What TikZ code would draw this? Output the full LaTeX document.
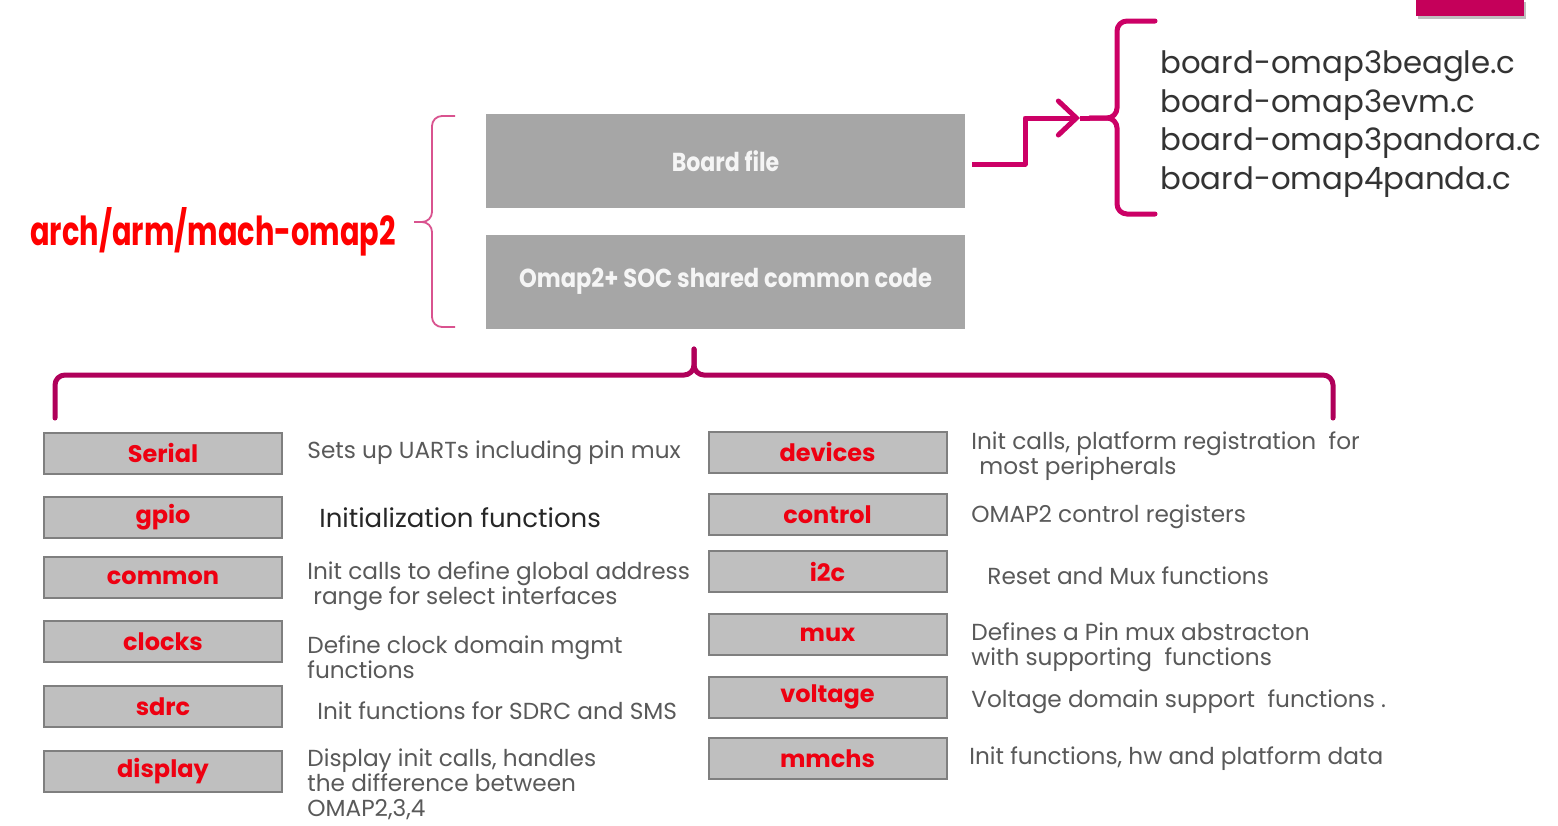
\documentclass[tikz,border=0pt]{standalone}
\usepackage{fontspec}
\usepackage{graphicx}
\setmainfont{Poppins}
\usetikzlibrary{arrows.meta}
\definecolor{mag}{HTML}{CC0066}
\definecolor{magdark}{HTML}{B0005A}
\definecolor{bracepink}{HTML}{D9538F}
\definecolor{crim}{HTML}{C5005A}
\definecolor{topgray}{HTML}{A6A6A6}
\definecolor{boxgray}{HTML}{BFBFBF}
\definecolor{boxedge}{HTML}{7F7F7F}
\definecolor{lblred}{HTML}{EE0011}
\definecolor{desc}{HTML}{595959}
\definecolor{archred}{HTML}{FF0000}
\begin{document}
\begin{tikzpicture}[x=0.5pt,y=-0.5pt,
  topbox/.style={fill=topgray, minimum width=239.5pt, minimum height=47pt, inner sep=0, text=white!92!gray, font=\bfseries\fontsize{13}{13}\selectfont},
  modbox/.style={fill=boxgray, draw=boxedge, line width=1pt, minimum width=119pt, minimum height=20.5pt, inner sep=0, text=lblred, font=\bfseries\fontsize{12}{12}\selectfont},
  desctext/.style={anchor=west, inner sep=0, text=desc, align=left, font=\fontsize{11.6}{12.5}\selectfont},
  filetext/.style={anchor=west, inner sep=0, text=black!80, align=left, font=\fontsize{15.4}{19.25}\selectfont},
  thick brace/.style={line width=2.5pt, rounded corners=5pt, line cap=round},
]
\useasboundingbox (0,0) rectangle (1558,825);
\fill[white] (0,0) rectangle (1558,825);

% top-right bar
\fill[black!25] (1418,2) rectangle (1526,19);
\fill[crim] (1416,0) rectangle (1524,16);

% top boxes
\node[topbox] (bf) at (725.5,161) {\scalebox{0.85}[1]{Board file}};
\node[topbox] (soc) at (725.5,281.5) {\scalebox{0.87}[1]{Omap2+ SOC shared common code}};

% arch label and thin brace
\node[inner sep=0, text=archred, font=\bfseries\fontsize{20}{20}\selectfont] (arch) at (213,232) {\scalebox{0.72}[1]{arch/arm/mach-omap2}};
\draw[bracepink, line width=0.9pt, rounded corners=5pt] (455,116) -- (432,116) -- (432,222) -- (414,222);
\draw[bracepink, line width=0.9pt, rounded corners=5pt] (414,222) -- (432,222) -- (432,327) -- (455,327);

% arrow to the board files
\coordinate (atip) at (1080,118);
\coordinate (btip) at (1090,118);
\draw[mag, line width=2.5pt, line join=round, -{Straight Barb[length=9pt,width=17pt,line cap=round]}] (972,164) -- (1025,164) -- (1025,118) -- (atip);
\draw[mag, thick brace] (1155,21) -- (1117,21) -- (1117,118) -- (btip);
\draw[mag, thick brace] (btip) -- (1117,118) -- (1117,214) -- (1155,214);
\draw[mag, line width=2.5pt] (atip) -- (btip);

\node[filetext] (files) at (1160,124) {board-omap3beagle.c\\board-omap3evm.c\\board-omap3pandora.c\\board-omap4panda.c};

% bottom brace
\coordinate (ctip) at (694,349);
\draw[magdark, thick brace] (55,418) -- (55,375) -- (694,375) -- (ctip);
\draw[magdark, thick brace] (ctip) -- (694,375) -- (1333,375) -- (1333,418);

% left column
\node[modbox] (serial)  at (163,453) {Serial};
\node[modbox] (gpio)    at (163,517.5) {gpio};
\node[modbox] (common)  at (163,577.5) {common};
\node[modbox] (clocks)  at (163,641.5) {clocks};
\node[modbox] (sdrc)    at (163,706.5) {sdrc};
\node[modbox] (display) at (163,771.5) {display};

\node[desctext] (dserial) at (307,453) {Sets up UARTs including pin mux};
\node[desctext, text=black!85, font=\fontsize{13}{15}\selectfont] (dgpio) at (319,518) {Initialization functions};
\node[desctext] (dcommon) at (307,586) {Init calls to define global address\\\hspace{3pt}range for select interfaces};
\node[desctext] (dclocks) at (307,657) {Define clock domain mgmt\\functions};
\node[desctext] (dsdrc) at (317,711) {Init functions for SDRC and SMS};
\node[desctext] (ddisplay) at (307,784) {Display init calls, handles\\the difference between\\OMAP2,3,4};

% right column
\node[modbox] (devices) at (827.5,452) {devices};
\node[modbox] (control) at (827.5,514.5) {control};
\node[modbox] (i2c)     at (827.5,571.5) {i2c};
\node[modbox] (mux)     at (827.5,634.5) {mux};
\node[modbox] (voltage) at (827.5,697) {voltage};
\node[modbox] (mmchs)   at (827.5,758.5) {mmchs};

\node[desctext] (ddevices) at (971,456) {Init calls, platform registration\ \ for\\\hspace{4pt}most peripherals};
\node[desctext] (dcontrol) at (971,517) {OMAP2 control registers};
\node[desctext] (di2c) at (987,576) {Reset and Mux functions};
\node[desctext] (dmux) at (971,647) {Defines a Pin mux abstracton\\with supporting\ \ functions};
\node[desctext] (dvoltage) at (971,702) {Voltage domain support\ \ functions .};
\node[desctext] (dmmchs) at (969,759) {Init functions, hw and platform data};
\end{tikzpicture}
\end{document}
